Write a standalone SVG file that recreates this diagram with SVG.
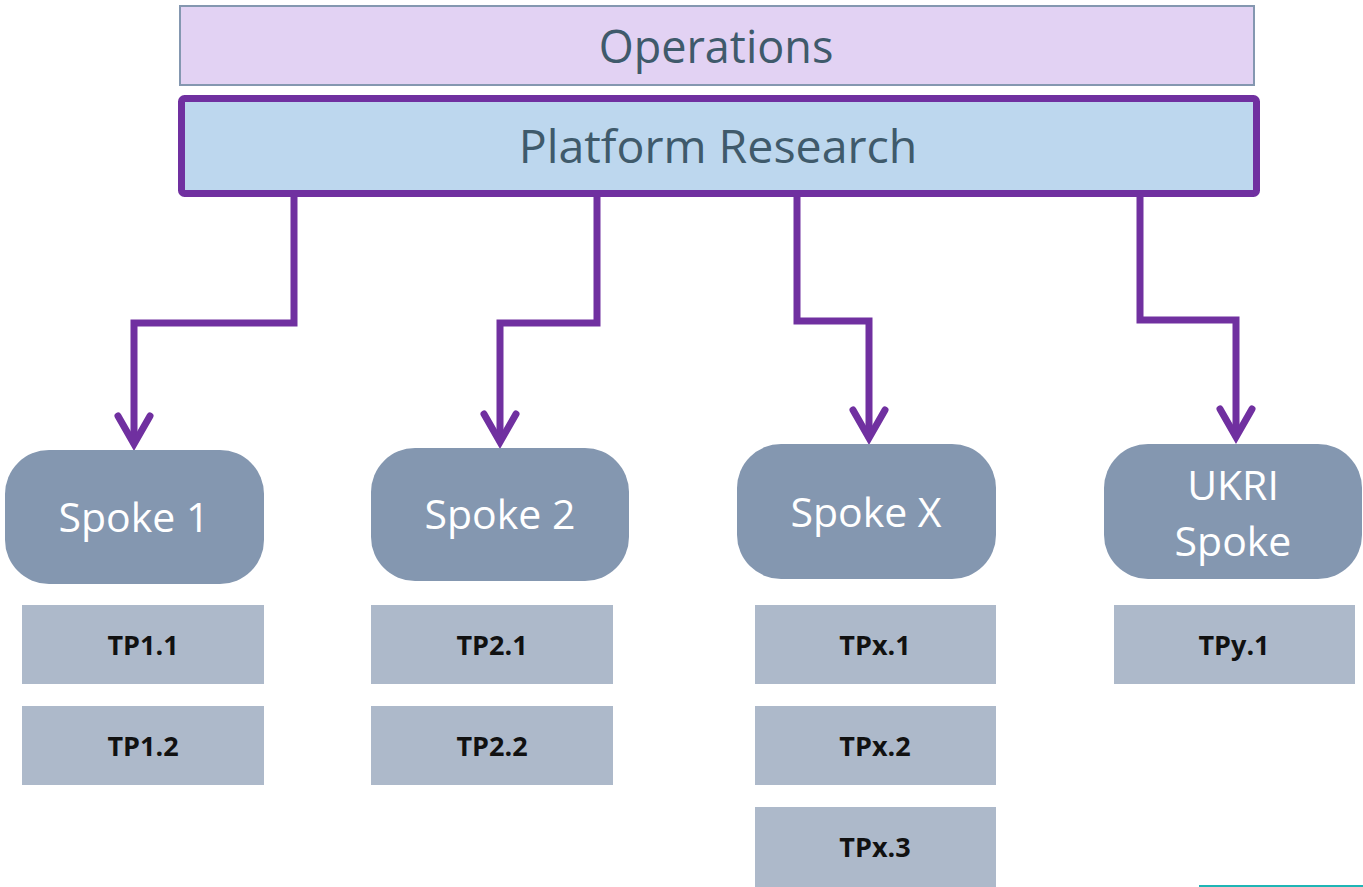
<svg xmlns="http://www.w3.org/2000/svg" width="1363" height="887" viewBox="0 0 1363 887">
<style>
.ops{fill:#e2d2f3;stroke:#8497b0;stroke-width:2}
.plat{fill:#bdd7ee;stroke:#7030a0;stroke-width:7}
.top{font-family:"Open Sans","Liberation Sans",sans-serif;font-size:45px;fill:#3f5a6b;text-anchor:middle}
.top2{font-size:46.5px}
.spoke{fill:#8497b0}
.stxt{font-family:"Open Sans","Liberation Sans",sans-serif;font-size:41px;fill:#ffffff;text-anchor:middle}
.tp{fill:#adb9ca}
.ttxt{font-family:"Open Sans","Liberation Sans",sans-serif;font-size:27px;font-weight:bold;fill:#111111;text-anchor:middle}
.conn{fill:none;stroke:#7030a0;stroke-width:7;stroke-linejoin:miter;marker-end:url(#chev)}
</style>
<defs>
<marker id="chev" viewBox="-36 -22 52 44" refX="0" refY="0" markerWidth="52" markerHeight="44" markerUnits="userSpaceOnUse" orient="auto">
<path d="M-28,-16 L0,0 L-28,16" fill="none" stroke="#7030a0" stroke-width="7" stroke-linecap="round" stroke-linejoin="miter"/>
</marker>
</defs>
<g id="operations">
<rect class="ops" x="180" y="6" width="1074" height="79"/>
<text class="top" x="716" y="63">Operations</text>
</g>
<g id="platform">
<rect class="plat" x="181.5" y="98.5" width="1075" height="95" rx="3"/>
<text class="top top2" x="718" y="163">Platform Research</text>
</g>
<g id="connectors">
<path class="conn" d="M294,197 V323 H134 V444"/>
<path class="conn" d="M597,197 V323 H500 V442"/>
<path class="conn" d="M797,197 V321 H869 V438"/>
<path class="conn" d="M1140,197 V320 H1236 V437"/>
</g>
<g id="spoke1">
<rect class="spoke" x="5" y="450" width="259" height="134" rx="44"/>
<text class="stxt" x="134" y="532">Spoke 1</text>
</g>
<g id="spoke2">
<rect class="spoke" x="371" y="448" width="258" height="133" rx="44"/>
<text class="stxt" x="500" y="529">Spoke 2</text>
</g>
<g id="spokeX">
<rect class="spoke" x="737" y="444" width="259" height="135" rx="44"/>
<text class="stxt" x="866" y="527">Spoke X</text>
</g>
<g id="spokeUKRI">
<rect class="spoke" x="1104" y="444" width="258" height="135" rx="44"/>
<text class="stxt" x="1233" y="500">UKRI</text>
<text class="stxt" x="1233" y="556">Spoke</text>
</g>
<g id="tp1_1"><rect class="tp" x="22" y="605" width="242" height="79"/><text class="ttxt" x="143" y="655">TP1.1</text></g>
<g id="tp1_2"><rect class="tp" x="22" y="706" width="242" height="79"/><text class="ttxt" x="143" y="756">TP1.2</text></g>
<g id="tp2_1"><rect class="tp" x="371" y="605" width="242" height="79"/><text class="ttxt" x="492" y="655">TP2.1</text></g>
<g id="tp2_2"><rect class="tp" x="371" y="706" width="242" height="79"/><text class="ttxt" x="492" y="756">TP2.2</text></g>
<g id="tpx_1"><rect class="tp" x="755" y="605" width="241" height="79"/><text class="ttxt" x="875" y="655">TPx.1</text></g>
<g id="tpx_2"><rect class="tp" x="755" y="706" width="241" height="79"/><text class="ttxt" x="875" y="756">TPx.2</text></g>
<g id="tpx_3"><rect class="tp" x="755" y="807" width="241" height="80"/><text class="ttxt" x="875" y="857">TPx.3</text></g>
<g id="tpy_1"><rect class="tp" x="1114" y="605" width="241" height="79"/><text class="ttxt" x="1234" y="655">TPy.1</text></g>
<rect x="1199" y="885" width="164" height="2" fill="#1fb5b5"/>
</svg>
